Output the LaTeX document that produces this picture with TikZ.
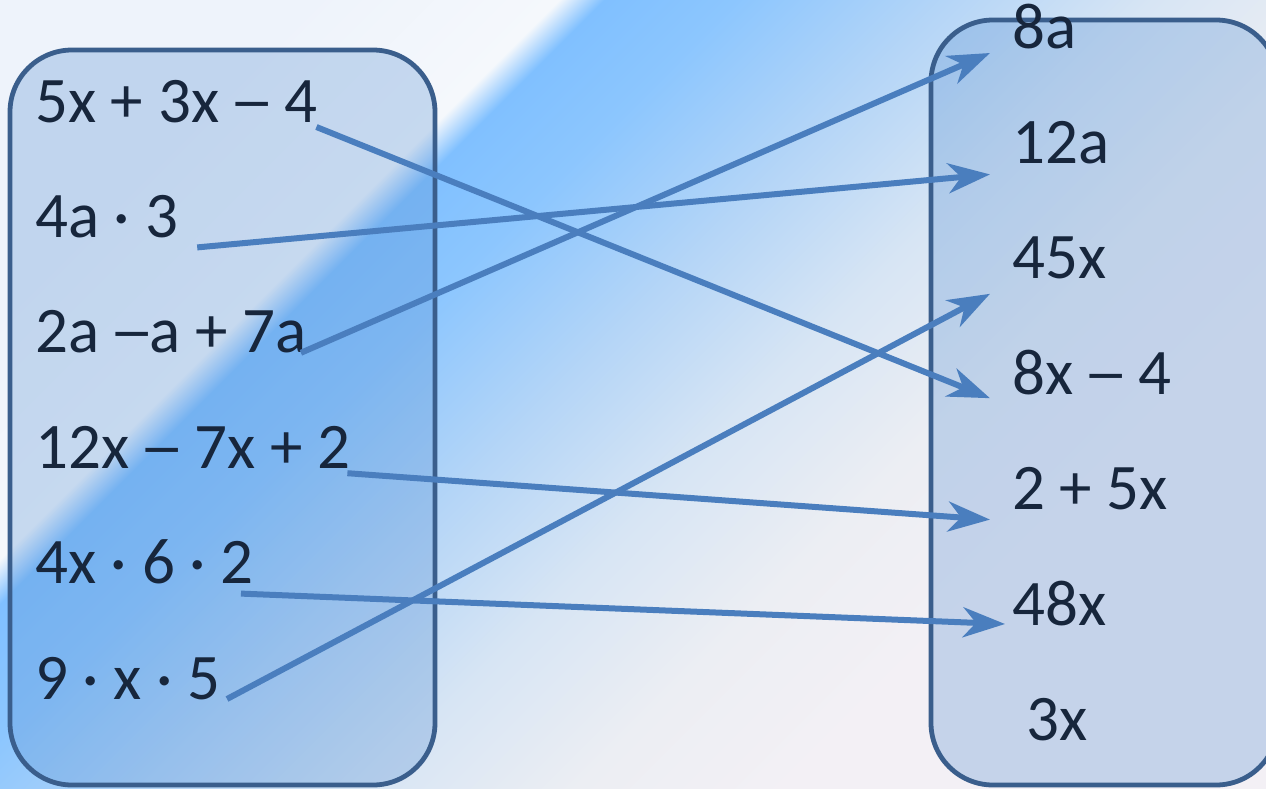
\documentclass[tikz,border=0pt]{standalone}
\usepackage{fontspec}
\setmainfont{Carlito}
\usetikzlibrary{positioning, arrows.meta}

\definecolor{bgwhite}{RGB}{238,243,251}
\definecolor{bgnear}{RGB}{245,248,252}
\definecolor{bandblue}{RGB}{128,192,255}
\definecolor{bandmid}{RGB}{140,198,254}
\definecolor{bandlight}{RGB}{180,213,247}
\definecolor{bandpale}{RGB}{215,229,244}
\definecolor{bggray}{RGB}{236,238,243}
\definecolor{bgfar}{RGB}{243,240,245}
\definecolor{boxfill}{RGB}{91,146,211}
\definecolor{boxline}{RGB}{58,94,140}
\definecolor{linkblue}{RGB}{74,126,190}
\definecolor{termtext}{RGB}{23,38,60}

\pgfdeclareverticalshading{bgband}{100bp}{color(0bp)=(bgfar); color(37.8bp)=(bgfar); color(42.5bp)=(bggray); color(47.2bp)=(bandpale); color(51.8bp)=(bandlight); color(56.5bp)=(bandmid); color(59.4bp)=(bandblue); color(60.4bp)=(bgnear); color(66bp)=(bgwhite); color(100bp)=(bgwhite)}

% wider dash, as the slide font draws it
\newcommand{\longdash}{\makebox[0.55em]{\scalebox{1.4}[1]{–}}}

\begin{document}
\begin{tikzpicture}[
  x=1pt, y=-1pt,
  node distance=74pt,
  panel/.style={draw=boxline, line width=4.8pt, rounded corners=62pt, fill=boxfill, fill opacity=0.3},
  term/.style={inner sep=0pt, text height=41pt, text depth=0pt, anchor=base west, text=termtext, font=\fontsize{65}{72}\selectfont},
  link/.style={draw=linkblue, line width=6pt, -{Stealth[length=42pt, width=30pt, inset=13pt]}}
]
\useasboundingbox (0,0) rectangle (1266,788);

% background
\begin{scope}
  \clip (0,0) rectangle (1266,788);
  \shade[shading=bgband, shading angle=45] (-167,-406) rectangle (1433,1194);
\end{scope}

% panels
\draw[panel] (10,50) rectangle (435,785);
\draw[panel] (931,20) rectangle (1278,785);

% left column
\node[term] (l1) at (35,122) {5x + 3x \longdash{} 4};
\node[term, below=of l1.south west, anchor=north west] (l2) {4a · 3};
\node[term, below=of l2.south west, anchor=north west] (l3) {2a \longdash{}a + 7a};
\node[term, below=of l3.south west, anchor=north west] (l4) {12x \longdash{} 7x + 2};
\node[term, below=of l4.south west, anchor=north west] (l5) {4x · 6 · 2};
\node[term, below=of l5.south west, anchor=north west] (l6) {9 · x · 5};

% right column
\node[term] (r1) at (1012,48) {8a};
\node[term, below=of r1.south west, anchor=north west] (r2) {12a};
\node[term, below=of r2.south west, anchor=north west] (r3) {45x};
\node[term, below=of r3.south west, anchor=north west] (r4) {8x \longdash{} 4};
\node[term, below=of r4.south west, anchor=north west] (r5) {2 + 5x};
\node[term, below=of r5.south west, anchor=north west] (r6) {48x};
\node[term, below=of r6.south west, anchor=north west, xshift=14pt] (r7) {3x};

% matches
\draw[link] ([xshift=-1pt, yshift=-5pt]l1.base east) -- ([xshift=-22pt, yshift=-4pt]r4.base west);
\draw[link] ([xshift=19pt, yshift=-10pt]l2.base east) -- ([xshift=-22pt, yshift=-11pt]r2.base west);
\draw[link] ([xshift=-6pt]l3.base east) -- ([xshift=-22pt, yshift=-5pt]r1.base west);
\draw[link] ([xshift=-3pt, yshift=-5pt]l4.base east) -- ([xshift=-22pt, yshift=-10pt]r5.base west);
\draw[link] ([xshift=-13pt, yshift=-10pt]l5.base east) -- ([xshift=-7pt, yshift=1pt]r6.base west);
\draw[link] ([xshift=6pt]l6.base east) -- ([xshift=-22pt, yshift=-15pt]r3.base west);

\end{tikzpicture}
\end{document}
